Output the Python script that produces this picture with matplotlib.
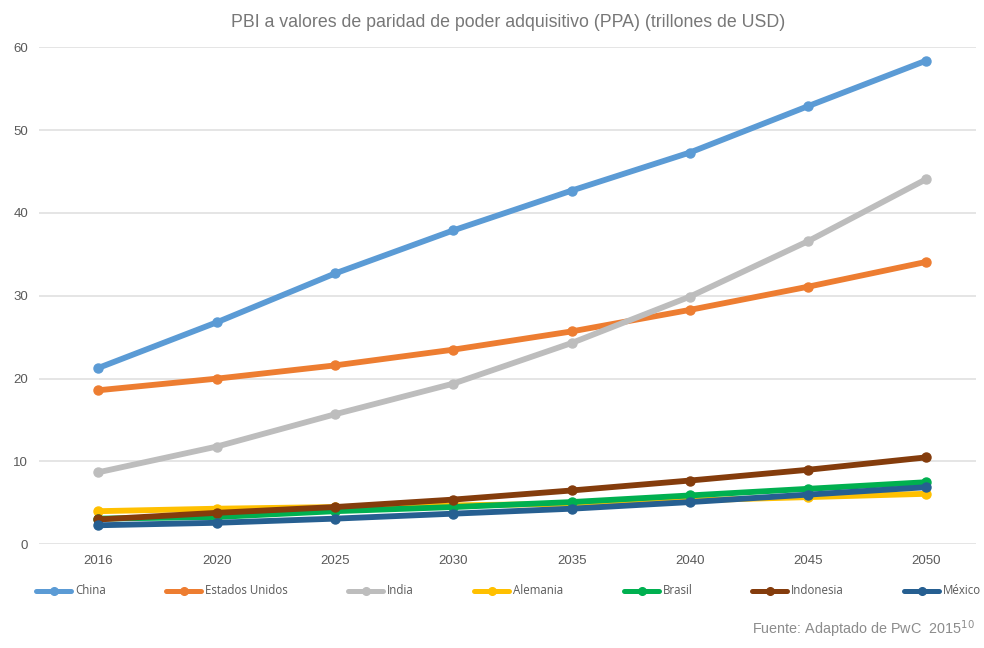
import matplotlib
matplotlib.use("Agg")
import matplotlib.pyplot as plt
from matplotlib.lines import Line2D

years = ["2016", "2020", "2025", "2030", "2035", "2040", "2045", "2050"]

china = [21.3, 26.8, 32.7, 37.9, 42.7, 47.3, 52.9, 58.4]
estados_unidos = [18.6, 20.0, 21.6, 23.5, 25.7, 28.3, 31.1, 34.1]
india = [8.7, 11.8, 15.7, 19.4, 24.3, 29.9, 36.6, 44.1]
alemania = [4.0, 4.3, 4.5, 4.7, 4.9, 5.3, 5.7, 6.1]
brasil = [3.1, 3.3, 4.0, 4.5, 5.1, 5.9, 6.7, 7.5]
indonesia = [3.0, 3.8, 4.5, 5.4, 6.5, 7.7, 9.0, 10.5]
mexico = [2.3, 2.6, 3.1, 3.7, 4.3, 5.1, 6.0, 6.9]

names = ["China", "Estados Unidos", "India", "Alemania", "Brasil", "Indonesia", "México"]
series = [china, estados_unidos, india, alemania, brasil, indonesia, mexico]
colors = ["#5B9BD5", "#ED7D31", "#BDBDBD", "#FFC000", "#00B050", "#843C0C", "#265F91"]

# left edge of each legend key, in figure pixels
legend_x = [36, 166, 348, 474, 624, 752, 904]

W, H = 984, 648
fig = plt.figure(figsize=(W / 100, H / 100), dpi=100)
ax = fig.add_axes([0.04, 0.160, 0.952, 0.767])

xs = list(range(len(years)))
for vals, col, name in zip(series, colors, names):
    ax.plot(xs, vals, color=col, linewidth=4.2, marker="o", markersize=6.5,
            solid_capstyle="round", label=name)

ax.set_xlim(-0.5, 7.42)
ax.set_ylim(0, 60)
ax.set_yticks(range(0, 61, 10))
ax.set_xticks(xs)
ax.set_xticklabels(years)
ax.grid(axis="y", color="#E3E3E3", linewidth=1.3)
ax.set_axisbelow(True)
for sp in ax.spines.values():
    sp.set_visible(False)
ax.tick_params(length=0, labelsize=9.5, labelcolor="#595959", pad=8)
for lab in ax.get_xticklabels() + ax.get_yticklabels():
    lab.set_family("Liberation Sans")

fig.text(0.516, 0.966, "PBI a valores de paridad de poder adquisitivo (PPA) (trillones de USD)",
         ha="center", va="center", fontsize=12.8, color="#777777", family="Liberation Sans")

# legend drawn key by key so the spacing follows the original layout
ly = 1 - 591 / H
for x0, col, name in zip(legend_x, colors, names):
    key = Line2D([x0 / W, (x0 + 35) / W], [ly, ly], transform=fig.transFigure,
                 color=col, linewidth=3.6, solid_capstyle="round")
    dot = Line2D([(x0 + 17.5) / W], [ly], transform=fig.transFigure,
                 color=col, marker="o", markersize=5.5, linestyle="none")
    fig.add_artist(key)
    fig.add_artist(dot)
    fig.text((x0 + 39) / W, ly, name, ha="left", va="center", fontsize=8.3,
             color="#595959", family="Open Sans")

fig.text(0.991, 0.012, r"Fuente: Adaptado de PwC  2015$^{10}$", ha="right", va="bottom",
         fontsize=10.4, color="#8C8C8C", family="Liberation Sans")

fig.savefig("out.png", dpi=100)
